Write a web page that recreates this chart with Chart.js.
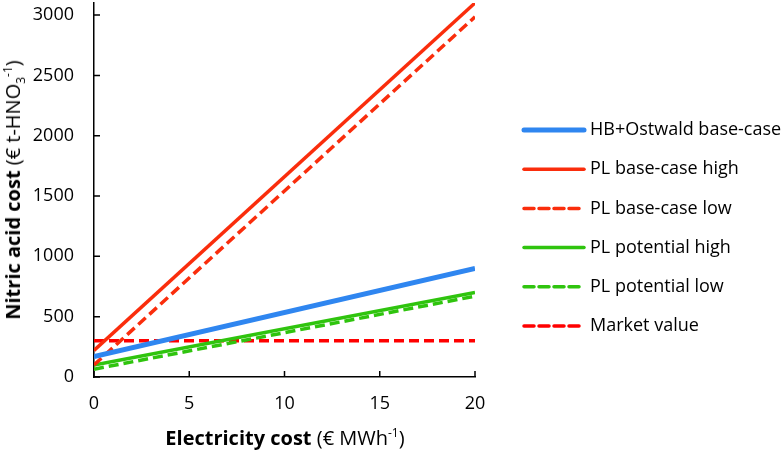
<!DOCTYPE html>
<html>
<head>
<meta charset="utf-8">
<script src="https://cdn.jsdelivr.net/npm/chart.js@4.4.1/dist/chart.umd.min.js"></script>
<style>
    body { margin: 0; background: #fff; }
    .wrap { position: relative; width: 784px; height: 451px; }
    .yTitle {
        position: absolute; left: 14px; top: 190px;
        transform: translate(-50%, -50%) rotate(-90deg);
        white-space: nowrap; font: 20px 'Open Sans'; color: #000;
    }
    .xTitle {
        position: absolute; left: 285px; top: 437px;
        transform: translate(-50%, -50%);
        white-space: nowrap; font: 20px 'Open Sans'; color: #000;
    }
    sup, sub { font-size: 12px; }
</style>
</head>
<body>
<div class="wrap">
    <canvas id="myChart" width="784" height="451"></canvas>
    <div class="yTitle"><b>Nitric acid cost</b> (€ t-HNO<sub>3</sub><sup>-1</sup>)</div>
    <div class="xTitle"><b>Electricity cost</b> (€ MWh<sup>-1</sup>)</div>
</div>
<script>
// electricity cost, € per MWh
const electricity = [0, 20];
const xTicks = [0, 5, 10, 15, 20];
const yTicks = [0, 500, 1000, 1500, 2000, 2500, 3000];

// nitric acid cost, € per t HNO3
const hbOstwald = [170, 900];
const plBaseHigh = [220, 3100];
const plBaseLow = [100, 2985];
const plPotentialHigh = [100, 700];
const plPotentialLow = [65, 670];
const marketValue = [300, 300];

function points(values) {
    return electricity.map((x, i) => ({ x: x, y: values[i] }));
}

function line(label, values, color, width, dash) {
    return {
        label: label,
        data: points(values),
        borderColor: color,
        backgroundColor: color,
        borderWidth: width,
        borderDash: dash,
        pointRadius: 0,
        borderCapStyle: 'butt'
    };
}

function noPadding(s) {
    s.paddingTop = 0;
    s.paddingBottom = 0;
    s.paddingLeft = 0;
    s.paddingRight = 0;
}

// ticks pointing into the plot, and the legend on the right
const sidePlugin = {
    id: 'side',
    afterDraw(chart) {
        const ctx = chart.ctx;
        const xs = chart.scales.x;
        const ys = chart.scales.y;
        ctx.save();
        ctx.strokeStyle = '#000';
        ctx.lineWidth = 1.5;
        ctx.beginPath();
        xTicks.forEach(v => {
            const px = xs.getPixelForValue(v);
            ctx.moveTo(px, ys.bottom);
            ctx.lineTo(px, ys.bottom - 6);
        });
        yTicks.forEach(v => {
            const py = ys.getPixelForValue(v);
            ctx.moveTo(xs.left, py);
            ctx.lineTo(xs.left + 6, py);
        });
        ctx.stroke();

        ctx.font = '18px "Open Sans"';
        ctx.textBaseline = 'middle';
        ctx.fillStyle = '#000';
        chart.data.datasets.forEach((ds, i) => {
            const y = 130 + i * 39.2;
            ctx.beginPath();
            ctx.strokeStyle = ds.borderColor;
            ctx.lineWidth = ds.borderWidth;
            ctx.lineCap = 'round';
            ctx.setLineDash(ds.borderDash || []);
            ctx.moveTo(524, y);
            ctx.lineTo(584, y);
            ctx.stroke();
            ctx.setLineDash([]);
            ctx.fillText(ds.label, 590, y);
        });
        ctx.restore();
    }
};

new Chart(document.getElementById('myChart'), {
    type: 'line',
    data: {
        datasets: [
            line('HB+Ostwald base-case', hbOstwald, '#2f86f0', 5, []),
            line('PL base-case high', plBaseHigh, '#fa2d0c', 3.5, []),
            line('PL base-case low', plBaseLow, '#fa2d0c', 3.5, [10, 5]),
            line('PL potential high', plPotentialHigh, '#2fc40e', 3.5, []),
            line('PL potential low', plPotentialLow, '#2fc40e', 3.5, [10, 5]),
            line('Market value', marketValue, '#ff0000', 3.5, [10, 5])
        ]
    },
    options: {
        responsive: false,
        animation: false,
        layout: { padding: { top: 3, right: 309, left: 0, bottom: 0 } },
        plugins: { legend: { display: false }, tooltip: { enabled: false } },
        scales: {
            x: {
                type: 'linear',
                min: 0, max: 20,
                afterBuildTicks: s => { s.ticks = xTicks.map(v => ({ value: v })); },
                afterFit: s => { s.height = 74; noPadding(s); },
                grid: { display: false, drawTicks: false },
                border: { color: '#000', width: 1.5 },
                ticks: { color: '#000', font: { family: 'Open Sans', size: 18 }, padding: 16, maxRotation: 0 }
            },
            y: {
                min: 0, max: 3100,
                afterBuildTicks: s => { s.ticks = yTicks.map(v => ({ value: v })); },
                afterFit: s => { s.width = 94; noPadding(s); },
                grid: { display: false, drawTicks: false },
                border: { color: '#000', width: 1.5 },
                ticks: { color: '#000', font: { family: 'Open Sans', size: 18 }, padding: 20, callback: v => String(v) }
            }
        }
    },
    plugins: [sidePlugin]
});
</script>
</body>
</html>
